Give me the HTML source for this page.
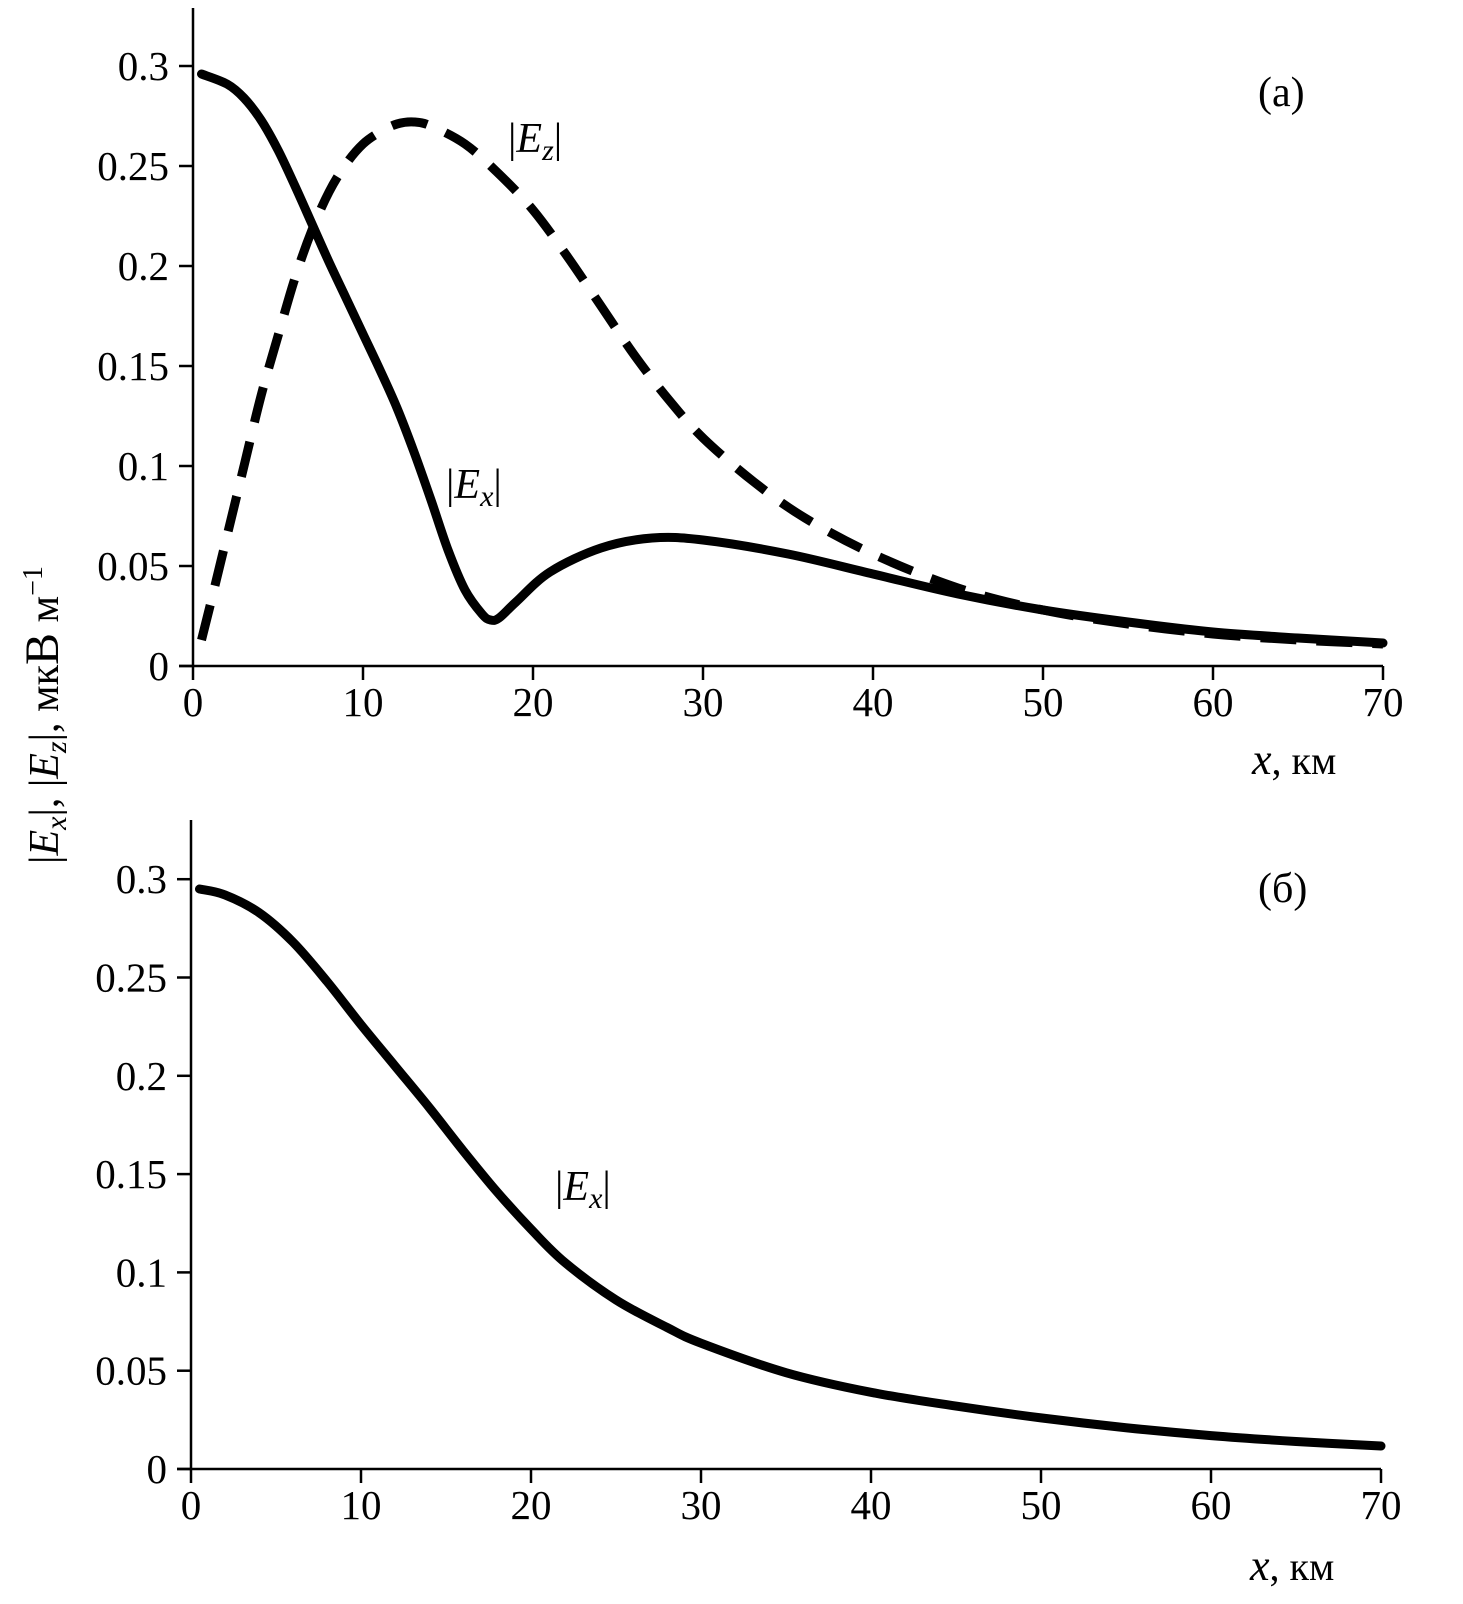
<!DOCTYPE html>
<html><head><meta charset="utf-8"><style>
html,body{margin:0;padding:0;background:#fff;}
svg text{font-family:"Liberation Serif",serif;fill:#000;}
</style></head><body>
<svg id="chart" width="1463" height="1599" viewBox="0 0 1463 1599" xmlns="http://www.w3.org/2000/svg"></svg>
<script>
const xTicks=[0,10,20,30,40,50,60,70];
const yTicks=[0,0.05,0.1,0.15,0.2,0.25,0.3];
const yTickLabels=["0","0.05","0.1","0.15","0.2","0.25","0.3"];
const topExX=[0.5,2,3,4,5,6,7,8,9,10,11,12,13,14,15,16,17,17.5,18,19,21,24,27,30,35,40,45,50,55,60,65,70];
const topExY=[0.296,0.291,0.284,0.273,0.258,0.24,0.221,0.202,0.184,0.166,0.148,0.129,0.107,0.083,0.058,0.038,0.026,0.023,0.024,0.032,0.047,0.059,0.064,0.063,0.056,0.046,0.036,0.028,0.022,0.017,0.014,0.0115];
const topEzX=[0.5,1,2,3,4,5,6,7,8,9,10,11,12,13,14,16,18,20,22,24,26,28,30,33,36,40,45,50,55,60,65,70];
const topEzY=[0.013,0.03,0.065,0.1,0.135,0.165,0.194,0.218,0.237,0.251,0.261,0.267,0.271,0.272,0.27,0.261,0.246,0.228,0.205,0.18,0.155,0.133,0.114,0.092,0.074,0.056,0.039,0.028,0.021,0.016,0.013,0.011];
const botExX=[0.5,2,4,6,8,10,12,14,16,18,20,22,25,28,30,35,40,45,50,55,60,65,70];
const botExY=[0.295,0.292,0.283,0.268,0.248,0.226,0.205,0.184,0.162,0.141,0.122,0.105,0.086,0.072,0.064,0.049,0.039,0.032,0.026,0.021,0.017,0.014,0.0117];

const NS="http://www.w3.org/2000/svg";
const svg=document.getElementById('chart');
function el(tag,attrs,parent){const e=document.createElementNS(NS,tag);for(const k in attrs)e.setAttribute(k,attrs[k]);(parent||svg).appendChild(e);return e;}

function panel(p){
  const g=el('g',{});
  
  
  const sx=v=>p.x0+v*p.kx;
  const sy=v=>p.y0-v*p.ky;
  const ya=el('line',{x1:p.x0,y1:p.axTop,x2:p.x0,y2:p.y0,stroke:'#000','stroke-width':2.5},g);
  
  
  const xa=el('line',{x1:p.x0-14,y1:p.y0,x2:sx(70),y2:p.y0,stroke:'#000','stroke-width':2.5},g);
  
  
  xTicks.forEach(t=>{
    el('line',{x1:sx(t),y1:p.y0,x2:sx(t),y2:p.y0+14,stroke:'#000','stroke-width':2.5},g);
    const tx=el('text',{x:sx(t),y:p.y0+50,'font-size':41,'text-anchor':'middle'},g);
    tx.textContent=t;
    
    
  });
  yTicks.forEach((t,i)=>{
    el('line',{x1:p.x0-14,y1:sy(t),x2:p.x0,y2:sy(t),stroke:'#000','stroke-width':2.5},g);
    const tx=el('text',{x:p.x0-24,y:sy(t)+14,'font-size':41,'text-anchor':'end'},g);
    tx.textContent=yTickLabels[i];
    
    
  });
  p.series.forEach(s=>{
    const pts=s.x.map((v,i)=>[sx(v),sy(s.y[i])]);
    let d='M'+pts[0][0]+','+pts[0][1];
    for(let i=0;i<pts.length-1;i++){
      const p0=pts[Math.max(0,i-1)],p1=pts[i],p2=pts[i+1],p3=pts[Math.min(pts.length-1,i+2)];
      const c1=[p1[0]+(p2[0]-p0[0])/6,p1[1]+(p2[1]-p0[1])/6];
      const c2=[p2[0]-(p3[0]-p1[0])/6,p2[1]-(p3[1]-p1[1])/6];
      d+=' C'+c1[0]+','+c1[1]+' '+c2[0]+','+c2[1]+' '+p2[0]+','+p2[1];
    }
    const a={d:d,fill:'none',stroke:'#000','stroke-width':9,'stroke-linecap':s.dash?'butt':'round'};
    if(s.dash)a['stroke-dasharray']='36,20';
    const path=el('path',a,g);
    
    
  });
  const xl=el('text',{x:p.xlx,y:p.xly,'font-size':40},g);
  xl.innerHTML='<tspan font-style="italic" font-size="44">x</tspan>, км';
  
  
  return {sx,sy,g};
}

panel({name:'panel-a',x0:193,y0:666,kx:17,ky:2000,axTop:8,xlx:1252,xly:774,
  series:[{name:'ex-line-a',x:topExX,y:topExY},{name:'ez-line-a',x:topEzX,y:topEzY,dash:true}]});
panel({name:'panel-b',x0:191,y0:1469,kx:17,ky:1966,axTop:820,xlx:1250,xly:1580,
  series:[{name:'ex-line-b',x:botExX,y:botExY}]});

function label(html,x,y,name,size){
  const t=el('text',{x:x,y:y,'font-size':size||42});
  t.innerHTML=html;
  
  
}
label('(a)',1258,106,'panel-a-label');
label('|<tspan font-style="italic">E</tspan><tspan font-style="italic" font-size="30" dy="8">z</tspan><tspan dy="-8">|</tspan>',508,152,'ez-label');
label('|<tspan font-style="italic">E</tspan><tspan font-style="italic" font-size="30" dy="8">x</tspan><tspan dy="-8">|</tspan>',446,498,'ex-label-a');
label('(б)',1258,902,'panel-b-label');
label('|<tspan font-style="italic">E</tspan><tspan font-style="italic" font-size="30" dy="8">x</tspan><tspan dy="-8">|</tspan>',555,1200,'ex-label-b');

const yt=el('text',{x:0,y:0,'font-size':42,'text-anchor':'middle',transform:'translate(58,715) rotate(-90)'});
yt.innerHTML='|<tspan font-style="italic">E</tspan><tspan font-style="italic" font-size="30" dy="8">x</tspan><tspan dy="-8">|, |</tspan><tspan font-style="italic">E</tspan><tspan font-style="italic" font-size="30" dy="8">z</tspan><tspan dy="-8">|, мк</tspan><tspan font-size="48">В</tspan> м<tspan font-size="28" dy="-16">−1</tspan>';


</script>
</body></html>
